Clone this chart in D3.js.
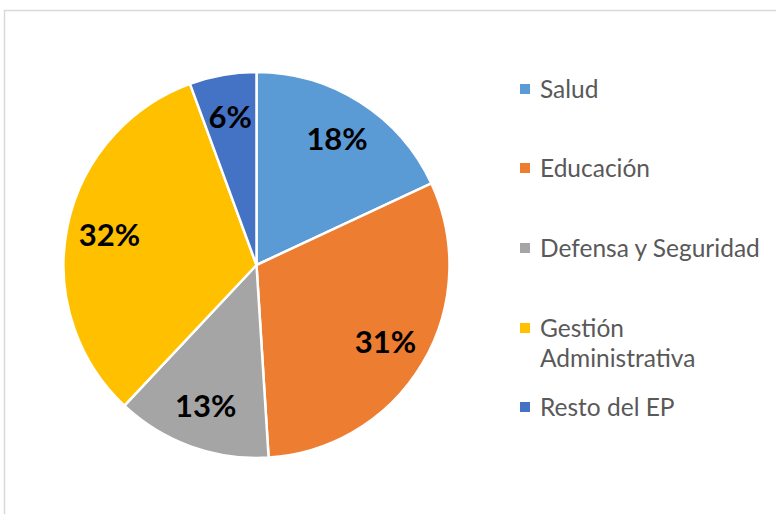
<!DOCTYPE html>
<html><head><meta charset="utf-8">
<script src="https://cdn.jsdelivr.net/npm/d3@7"></script>
<style>body{margin:0;background:#fff}svg{display:block}</style>
</head><body><svg id="c" width="776" height="514"></svg>
<script>
const categories = ["Salud","Educación","Defensa y Seguridad","Gestión Administrativa","Resto del EP"];
const legendLines = [["Salud"],["Educación"],["Defensa y Seguridad"],["Gestión","Administrativa"],["Resto del EP"]];
const values = [18.05,30.95,13.0,32.4,5.6];
const labels = ["18%","31%","13%","32%","6%"];
const colors = ["#5B9BD5","#ED7D31","#A5A5A5","#FFC000","#4472C4"];
const legendY = [89,168,248,328,407];

const svg = d3.select("#c");
svg.append("rect").attr("x",4.5).attr("y",10.5).attr("width",800).attr("height",600)
  .attr("fill","#fff").attr("stroke","#d9d9d9").attr("stroke-width",1.5);

const cx=256.5, cy=265, R=193;
const pie = d3.pie().sort(null).value(d=>d)(values);
const arc = d3.arc().innerRadius(0).outerRadius(R);
const labelArc = d3.arc().innerRadius(150).outerRadius(150);
const g = svg.append("g").attr("transform",`translate(${cx},${cy})`);
g.selectAll("path").data(pie).join("path").attr("d",arc)
  .attr("fill",(d,i)=>colors[i]).attr("stroke","#fff").attr("stroke-width",2.5);
g.selectAll("text").data(pie).join("text")
  .attr("transform",(d,i)=>{const c=labelArc.centroid(d); return `translate(${c[0]},${c[1]})`;})
  .attr("text-anchor","middle").attr("dy","0.36em")
  .attr("font-family","Lato, 'Open Sans', sans-serif").attr("font-weight","bold").attr("font-size",31)
  .attr("fill","#000").text((d,i)=>labels[i]);

const lg = svg.append("g");
categories.forEach((c,i)=>{
  lg.append("rect").attr("x",520).attr("y",legendY[i]-5).attr("width",10).attr("height",10).attr("fill",colors[i]);
  const t = lg.append("text").attr("x",540).attr("y",legendY[i])
    .attr("font-family","Lato, 'Open Sans', sans-serif").attr("font-size",24.5).attr("fill","#595959");
  legendLines[i].forEach((l,j)=>t.append("tspan").attr("x",540).attr("dy",j===0?"0.35em":"1.26em").text(l));
});
</script></body></html>
